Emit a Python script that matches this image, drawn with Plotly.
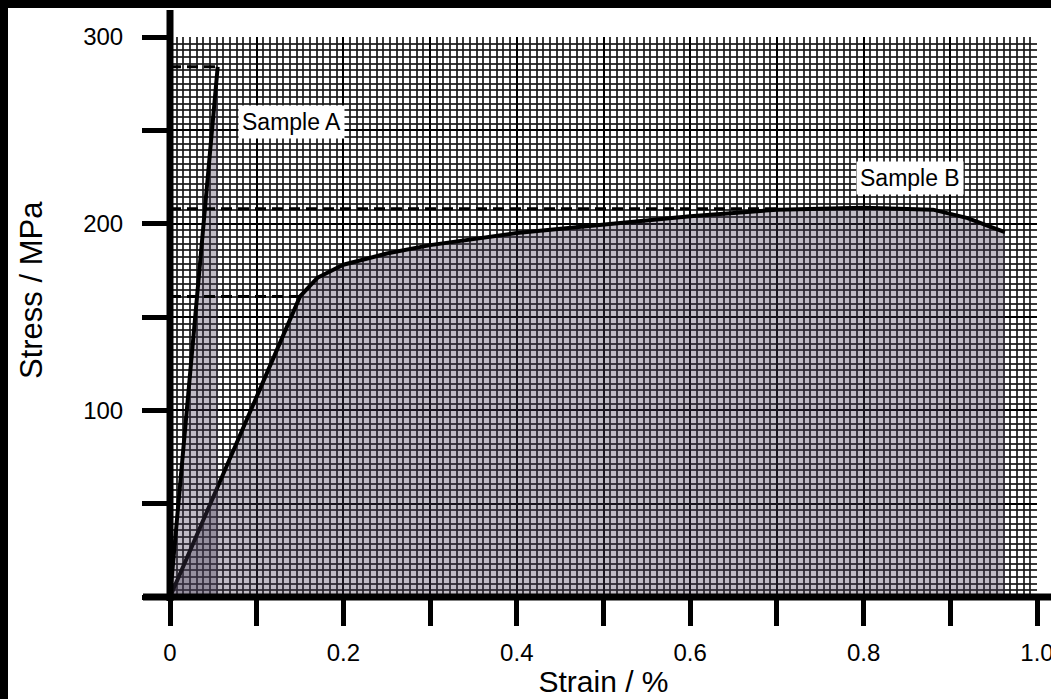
import plotly.graph_objects as go

# ---- data ----
strain_A = [0.0, 0.055]
stress_A = [0.0, 284.0]

strain_B = [0.0, 0.15, 0.17, 0.20, 0.25, 0.30, 0.40, 0.50, 0.60, 0.70, 0.80, 0.88, 0.92, 0.945, 0.963]
stress_B = [0.0, 161.0, 171.0, 178.0, 184.0, 188.5, 195.0, 199.5, 204.0, 207.5, 208.5, 207.5, 203.0, 198.5, 195.5]

# reference (dashed) levels: (stress, strain where the dash ends)
ref_levels = [284.0, 208.0, 161.0]
ref_ends = [0.055, 0.70, 0.15]

x_tickvals = [0.0, 0.1, 0.2, 0.3, 0.4, 0.5, 0.6, 0.7, 0.8, 0.9, 1.0]
x_ticktext = ["0", "", "0.2", "", "0.4", "", "0.6", "", "0.8", "", "1.0"]
y_tickvals = [0, 50, 100, 150, 200, 250, 300]
y_ticktext = ["", "", "100", "", "200", "", "300"]

labels = ["Sample A", "Sample B"]
label_x = [0.14, 0.853]
label_y = [254.5, 224.5]

FONT = "Liberation Sans, Arial, sans-serif"
fill_col = "rgba(70,60,85,0.34)"

fig = go.Figure()

fig.add_trace(go.Scatter(x=strain_B, y=stress_B, mode="lines", fill="tozeroy",
                         fillcolor=fill_col, line=dict(color="black", width=4),
                         name="Sample B", showlegend=False))
fig.add_trace(go.Scatter(x=strain_A, y=stress_A, mode="lines", fill="tozeroy",
                         fillcolor=fill_col, line=dict(color="black", width=4),
                         name="Sample A", showlegend=False))

for lvl, xe in zip(ref_levels, ref_ends):
    fig.add_trace(go.Scatter(x=[0, xe], y=[lvl, lvl], mode="lines",
                             line=dict(color="black", width=3, dash="11px,6px"),
                             showlegend=False, hoverinfo="skip"))

for t, lx, ly in zip(labels, label_x, label_y):
    fig.add_annotation(x=lx, y=ly, text=t, showarrow=False,
                       font=dict(family=FONT, size=23, color="black"),
                       bgcolor="white", borderpad=3)

L, R, T, B = 170, 14, 37, 102
W, H = 1051, 699
pw, ph = W - L - R, H - T - B

def px(p):
    return (p - L) / pw

def py(q):
    return (H - B - q) / ph

# y-axis title placed to match the original (not centred on the plot)
fig.add_annotation(xref="paper", yref="paper", x=px(31), y=py(290), text="Stress / MPa",
                   textangle=-90, showarrow=False, xanchor="center", yanchor="middle",
                   font=dict(family=FONT, size=31, color="black"))

shapes = [
    # axis lines
    dict(type="line", xref="paper", yref="paper", x0=0, x1=0, y0=py(601), y1=py(10),
         line=dict(color="black", width=7)),
    dict(type="line", xref="paper", yref="paper", x0=px(143), x1=px(1051), y0=0, y1=0,
         line=dict(color="black", width=7)),
    # black frame edges
    dict(type="rect", xref="paper", yref="paper", x0=px(-5), x1=px(8), y0=py(705), y1=py(-5),
         fillcolor="black", line=dict(width=0), layer="above"),
    dict(type="rect", xref="paper", yref="paper", x0=px(-5), x1=px(1060), y0=py(8), y1=py(-5),
         fillcolor="black", line=dict(width=0), layer="above"),
]

fig.update_layout(
    width=W, height=H,
    margin=dict(l=L, r=R, t=T, b=B, autoexpand=False),
    paper_bgcolor="white", plot_bgcolor="white",
    font=dict(family=FONT, color="black"),
    showlegend=False,
    shapes=shapes,
    xaxis=dict(
        range=[0, 1.0], tickmode="array", tickvals=x_tickvals, ticktext=x_ticktext,
        ticks="outside", ticklen=28, tickwidth=5, tickcolor="black",
        tickfont=dict(size=24, family=FONT, color="black"), ticklabelstandoff=6,
        ticklabeloverflow="allow",
        showline=False, zeroline=False,
        showgrid=True, gridcolor="black", gridwidth=1.8,
        minor=dict(tickmode="linear", tick0=0, dtick=1/130, showgrid=True,
                   gridcolor="rgba(25,25,25,0.85)", gridwidth=2.4, ticks=""),
        title=dict(text="Strain / %", font=dict(size=30, family=FONT, color="black"), standoff=6),
        automargin=False,
    ),
    yaxis=dict(
        range=[0, 300], tickmode="array", tickvals=y_tickvals, ticktext=y_ticktext,
        ticks="outside", ticklen=27, tickwidth=5, tickcolor="black",
        tickfont=dict(size=24, family=FONT, color="black"), ticklabelstandoff=14,
        ticklabeloverflow="allow",
        showline=False, zeroline=False,
        showgrid=True, gridcolor="black", gridwidth=1.8,
        minor=dict(tickmode="linear", tick0=0, dtick=50/14, showgrid=True,
                   gridcolor="rgba(25,25,25,0.85)", gridwidth=2.4, ticks=""),
        automargin=False,
    ),
)

fig.write_html("out.html")
